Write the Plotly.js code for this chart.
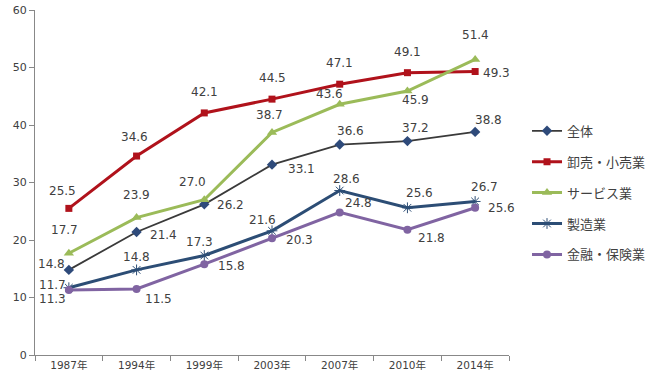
<!DOCTYPE html>
<html><head><meta charset="utf-8">
<script src="https://cdn.plot.ly/plotly-3.0.1.min.js"></script>
<style>body{margin:0;background:#fff}#c{width:650px;height:380px}</style>
</head><body><div id="c"></div>
<script>
const years = ["1987年","1994年","1999年","2003年","2007年","2010年","2014年"];
const seriesNames = ["全体","卸売・小売業","サービス業","製造業","金融・保険業"];
const zentai   = [14.8, 21.4, 26.2, 33.1, 36.6, 37.2, 38.8];
const oroshi   = [25.5, 34.6, 42.1, 44.5, 47.1, 49.1, 49.3];
const service  = [17.7, 23.9, 27.0, 38.7, 43.6, 45.9, 51.4];
const seizo    = [11.7, 14.8, 17.3, 21.6, 28.6, 25.6, 26.7];
const kinyu    = [11.3, 11.5, 15.8, 20.3, 24.8, 21.8, 25.6];

// label offsets in pixels [dx, dy(down)] per series / point (styling only)
const labelShift = [
  [[-17,-6],[27,3],[26,1],[29,4],[11,-14],[8,-13],[13,-12]],
  [[-6,-17],[-2,-19],[0,-21],[0,-21],[0,-21],[0,-21],[21,1]],
  [[-4,-23],[0,-23],[-12,-18],[-3,-17],[-10,-10],[8,9],[0,-24]],
  [[-16,-3],[0,-13],[-5,-14],[-10,-11],[7,-12],[12,-15],[9,-14]],
  [[-16,9],[22,10],[27,2],[27,2],[19,-9],[24,8],[26,0]]
];
const styles = [
  {line:{color:"#3a3a3a",width:1.8}, marker:{symbol:"diamond",color:"#2E4A7A",size:8}},
  {line:{color:"#B0121B",width:3}, marker:{symbol:"square",color:"#B0121B",size:7}},
  {line:{color:"#9BBB59",width:3}, marker:{symbol:"triangle-up",color:"#9BBB59",size:9}},
  {line:{color:"#2C4D75",width:3}, marker:{symbol:"asterisk-open",color:"#2C4D75",size:9,line:{color:"#2C4D75",width:1}}},
  {line:{color:"#8064A2",width:3}, marker:{symbol:"circle",color:"#8064A2",size:8}}
];
const data = [zentai, oroshi, service, seizo, kinyu];
const traces = data.map((vals,i)=>({
  type:"scatter", mode:"lines+markers",
  x: years, y: vals, name: seriesNames[i], legendgroup:"g"+i,
  line: styles[i].line, marker: styles[i].marker, cliponaxis:false
}));
const annotations = [];
data.forEach((vals,i)=>vals.forEach((v,j)=>{
  annotations.push({x: years[j], y: v, xref:"x", yref:"y", text: v.toFixed(1), showarrow:false,
    xshift: labelShift[i][j][0], yshift: -labelShift[i][j][1],
    xanchor:"center", yanchor:"middle",
    font:{family:"DejaVu Sans, Verdana, sans-serif", size:12, color:"#404040"}});
}));
const layout = {
  width:650, height:380,
  margin:{l:35, r:141, t:10, b:25, autoexpand:false},
  paper_bgcolor:"#fff", plot_bgcolor:"#fff",
  font:{family:"DejaVu Sans, 'Noto Sans CJK JP', sans-serif", size:11, color:"#404040"},
  xaxis:{type:"category", range:[-0.5,6.5], tickson:"boundaries", ticks:"outside", ticklen:5,
         tickcolor:"#888", showline:true, linecolor:"#888", linewidth:1, showgrid:false, automargin:false,
         tickfont:{family:"DejaVu Sans, 'Noto Sans CJK JP', sans-serif", size:10.5, color:"#404040"}},
  yaxis:{range:[0,60], dtick:10, ticks:"outside", ticklen:5, tickcolor:"#888", automargin:false,
         showline:true, linecolor:"#888", linewidth:1, showgrid:false, zeroline:false,
         tickfont:{family:"DejaVu Sans, sans-serif", size:11, color:"#404040"}},
  legend:{x:1.038, xanchor:"left", y:0.47, yanchor:"middle", tracegroupgap:11,
          font:{family:"'Noto Sans CJK JP', sans-serif", size:13, color:"#404040"},
          itemwidth:30, bgcolor:"rgba(0,0,0,0)"},
  annotations: annotations,
  showlegend:true
};
Plotly.newPlot("c", traces, layout, {staticPlot:true});
</script></body></html>
